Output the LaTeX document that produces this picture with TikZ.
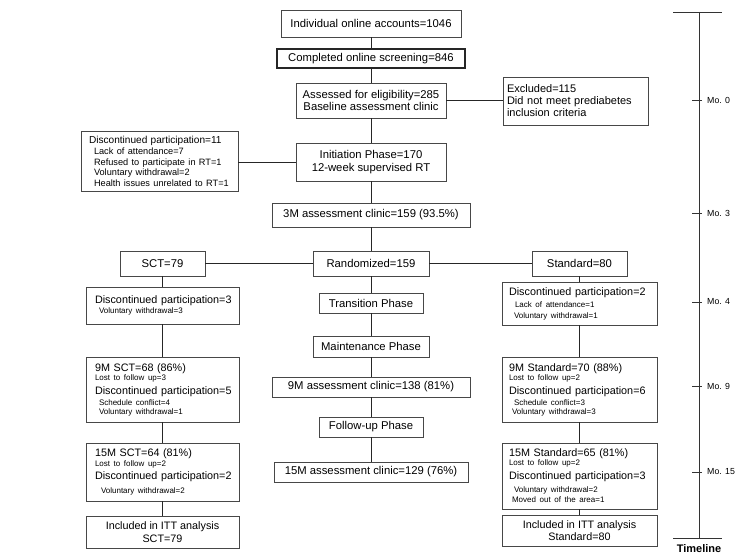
\documentclass[tikz,border=0pt]{standalone}
\usepackage{fontspec}
\setmainfont{Liberation Sans}
\newcommand{\fsmall}{\fontsize{8}{9}\selectfont}
\newcommand{\fmidd}{\fontsize{9.2}{10}\selectfont}
\newcommand{\mkbox}[7][]{%
  \pgfmathsetmacro\bw{#5-#3}\pgfmathsetmacro\bh{#6-#4}%
  \pgfmathsetmacro\bcx{(#3+#5)/2}\pgfmathsetmacro\bcy{(#4+#6)/2}%
  \node[box,minimum width=\bw pt,minimum height=\bh pt,#1] (#2) at (\bcx,\bcy) {#7};}
\tikzset{
  box/.style={draw=black!72, line width=0.7pt, fill=white, inner sep=0pt,
    font=\fontsize{11.3}{12.5}\selectfont, align=center},
  det/.style={box, align=left, font=\fontsize{10.8}{10}\selectfont},
  conn/.style={draw=black!85, line width=0.7pt},
  tl/.style={draw=black!80, line width=0.8pt},
  mo/.style={anchor=west, inner sep=0pt, font=\fontsize{8.8}{10}\selectfont},
}
\begin{document}
\begin{tikzpicture}[x=1pt,y=-1pt]
\useasboundingbox (0,0) rectangle (741,556);

% central column
\mkbox{b1}{281}{10}{461}{37}{Individual online accounts=1046}
\mkbox[line width=1.3pt, draw=black!85]{b2}{277}{49}{465}{68}{Completed online screening=846}
\mkbox{b3}{296}{83}{446}{118}{Assessed for eligibility=285\\Baseline assessment clinic}
\mkbox[det, inner xsep=4pt, text width=137pt, font=\fontsize{11}{12}\selectfont]{excl}{503}{77}{648}{125}{Excluded=115\\Did not meet prediabetes\\inclusion criteria}
\mkbox{init}{296}{143}{446}{181}{Initiation Phase=170\\12-week supervised RT}
\mkbox[det, inner xsep=8pt, text width=141pt, font=\fontsize{10.1}{10.4}\selectfont]{d11}{81}{131}{238}{191}{\mbox{Discontinued participation=11}\\[1.3pt]
\hspace*{5pt}{\fmidd Lack of attendance=7}\\
\hspace*{5pt}{\fmidd Refused to participate in RT=1}\\
\hspace*{5pt}{\fmidd Voluntary withdrawal=2}\\
\hspace*{5pt}{\fmidd \mbox{Health issues unrelated to RT=1}}}
\mkbox{m3}{272}{203}{470}{227}{3M assessment clinic=159 (93.5\%)}
\mkbox{rand}{313}{251}{429}{276}{Randomized=159}
\mkbox{sct}{120}{251}{205}{276}{SCT=79}
\mkbox{std}{532}{251}{627}{276}{Standard=80}
\mkbox{trans}{319}{293}{423}{313}{Transition Phase}
\mkbox{maint}{313}{336}{429}{357}{Maintenance Phase}
\mkbox{c9}{272}{377}{470}{397}{9M assessment clinic=138 (81\%)}
\mkbox{fup}{319}{417}{423}{437}{Follow-up Phase}
\mkbox{c15}{274}{462}{468}{482}{15M assessment clinic=129 (76\%)}

% SCT column
\mkbox[det, inner xsep=9pt, text width=135pt]{d3}{86}{287}{239}{324}{\mbox{Discontinued participation=3}\\[0pt]
\hspace*{4pt}{\fsmall Voluntary withdrawal=3}}
\mkbox[det, inner xsep=9pt, text width=135pt]{s9}{86}{357}{239}{422}{9M SCT=68 (86\%)\\[-1pt]
{\fsmall Lost to follow up=3}\\[4pt]
\mbox{Discontinued participation=5}\\[1pt]
\hspace*{4pt}{\fsmall Schedule conflict=4}\\[-1pt]
\hspace*{4pt}{\fsmall Voluntary withdrawal=1}}
\mkbox[det, inner xsep=9pt, text width=135pt]{s15}{86}{443}{239}{501}{15M SCT=64 (81\%)\\[0pt]
{\fsmall Lost to follow up=2}\\[3pt]
\mbox{Discontinued participation=2}\\[4pt]
\hspace*{6pt}{\fsmall Voluntary withdrawal=2}}
\mkbox[font=\fontsize{10.8}{12.5}\selectfont]{sitt}{86}{516}{239}{548}{Included in ITT analysis\\SCT=79}

% Standard column
\mkbox[det, inner xsep=7pt, text width=141pt]{d2}{502}{282}{657}{325}{\mbox{Discontinued participation=2}\\[2pt]
\hspace*{6pt}{\fsmall Lack of attendance=1}\\[1pt]
\hspace*{5pt}{\fsmall Voluntary withdrawal=1}}
\mkbox[det, inner xsep=7pt, text width=141pt]{t9}{502}{357}{657}{422}{9M Standard=70 (88\%)\\[-1pt]
{\fsmall Lost to follow up=2}\\[4pt]
\mbox{Discontinued participation=6}\\[1pt]
\hspace*{5pt}{\fsmall Schedule conflict=3}\\[-1pt]
\hspace*{3pt}{\fsmall Voluntary withdrawal=3}}
\mkbox[det, inner xsep=7pt, text width=141pt]{t15}{502}{443}{657}{509}{15M Standard=65 (81\%)\\[-1pt]
{\fsmall Lost to follow up=2}\\[4pt]
\mbox{Discontinued participation=3}\\[3pt]
\hspace*{5pt}{\fsmall Voluntary withdrawal=2}\\[0pt]
\hspace*{3pt}{\fsmall Moved out of the area=1}}
\mkbox[font=\fontsize{10.8}{12.5}\selectfont]{titt}{502}{515}{657}{546}{Included in ITT analysis\\Standard=80}

% connectors
\draw[conn] (b1.south) -- (b2.north);
\draw[conn] (b2.south) -- (b3.north);
\draw[conn] (b3.east) -- (b3.east -| excl.west);
\draw[conn] (b3.south) -- (init.north);
\draw[conn] (init.west) -- (init.west -| d11.east);
\draw[conn] (init.south) -- (m3.north);
\draw[conn] (m3.south) -- (rand.north);
\draw[conn] (sct.east) -- (rand.west);
\draw[conn] (rand.east) -- (std.west);
\draw[conn] (rand.south) -- (trans.north);
\draw[conn] (trans.south) -- (maint.north);
\draw[conn] (maint.south) -- (c9.north);
\draw[conn] (c9.south) -- (fup.north);
\draw[conn] (fup.south) -- (c15.north);
\draw[conn] (sct.south) -- (d3.north);
\draw[conn] (d3.south) -- (s9.north);
\draw[conn] (s9.south) -- (s15.north);
\draw[conn] (s15.south) -- (sitt.north);
\draw[conn] (std.south) -- (d2.north);
\draw[conn] (d2.south) -- (t9.north);
\draw[conn] (t9.south) -- (t15.north);
\draw[conn] (t15.south) -- (titt.north);

% timeline
\coordinate (tlt) at (699,12);
\coordinate (tlb) at (699,538);
\draw[tl] (tlt) -- (tlb);
\draw[tl] (tlt) ++(-26,0) -- ++(49,0);
\draw[tl] (tlb) ++(-26,0) -- ++(49,0);
\foreach \yy/\lab in {100/0, 213/3, 302/4, 386/9, 472/15}{
  \draw[tl] (692,\yy) -- (702,\yy);
  \node[mo] (mo\lab) at (707,\yy) {Mo. \lab};
}
\node[inner sep=0pt, font=\bfseries\fontsize{11}{12}\selectfont] (tlab) at (699,549) {Timeline};
\end{tikzpicture}
\end{document}
